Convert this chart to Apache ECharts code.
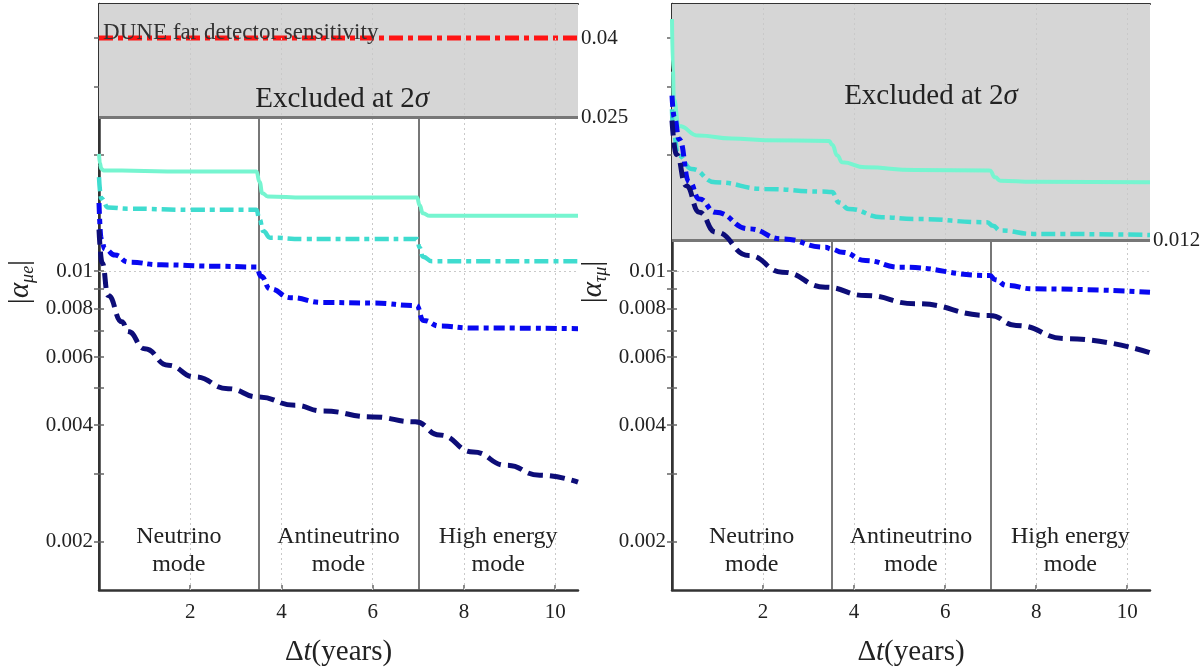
<!DOCTYPE html>
<html><head><meta charset="utf-8">
<script src="https://cdn.jsdelivr.net/npm/echarts@6/dist/echarts.min.js"></script>
<style>html,body{margin:0;padding:0;background:#fff}#c{width:1203px;height:667px}</style>
</head><body><div id="c"></div>
<script>
// ---------- data ----------
const xTickLabels = [2, 4, 6, 8, 10];
const yLeftLabels = [0.002, 0.004, 0.006, 0.008, 0.01];
const yTicks = [0.002, 0.003, 0.004, 0.005, 0.006, 0.007, 0.008, 0.009, 0.01, 0.02, 0.03, 0.04];
const yRightLabelsMuE = [0.025, 0.04];
const yRightLabelsTauMu = [0.012];
const modeBoundaries = [3.5, 7];
const modeNames = ['Neutrino\nmode', 'Antineutrino\nmode', 'High energy\nmode'];
const modeCenters = [1.75, 5.25, 8.75];
const excludedMuE = 0.025;
const excludedTauMu = 0.012;
const duneMuE = 0.04;
const X_MIN = 0, X_MAX = 10.5, Y_MIN = 0.0015, Y_MAX = 0.049;

// |alpha_mu e| panel
const muE_aqua_x = [0, 0.02, 0.05, 0.1, 0.5, 1.5, 2.5, 3.45, 3.52, 3.58, 3.7, 4.5, 6.0, 6.97, 7.03, 7.1, 7.25, 8.5, 10.5];
const muE_aqua_y = [0.0201, 0.0190, 0.0184, 0.0182, 0.0182, 0.0181, 0.0181, 0.0181, 0.0170, 0.0159, 0.0156, 0.0155, 0.0155, 0.0155, 0.0148, 0.0141, 0.0139, 0.0139, 0.0139];
const muE_turq_x = [0, 0.05, 0.2, 0.64, 2.0, 3.45, 3.52, 3.6, 3.75, 4.5, 6.0, 6.97, 7.03, 7.1, 7.3, 8.5, 10.5];
const muE_turq_y = [0.0175, 0.0154, 0.0146, 0.0145, 0.0144, 0.0144, 0.0136, 0.0127, 0.0122, 0.0121, 0.0121, 0.0121, 0.0115, 0.0109, 0.0106, 0.0106, 0.0106];
const muE_blue_x = [0, 0.05, 0.13, 0.35, 0.64, 1.37, 2.5, 3.45, 3.55, 3.75, 4.2, 4.9, 6.0, 6.96, 7.11, 7.47, 8.2, 10.5];
const muE_blue_y = [0.0150, 0.0121, 0.0114, 0.0110, 0.01055, 0.01038, 0.0103, 0.01025, 0.0097, 0.0090, 0.00854, 0.0083, 0.00827, 0.00815, 0.00746, 0.00721, 0.00713, 0.0071];
const muE_navy_x = [0, 0.07, 0.2, 0.5, 0.64, 1.0, 1.52, 2.1, 2.83, 3.49, 4.3, 4.9, 6.0, 6.93, 7.47, 8.2, 8.93, 9.66, 10.5];
const muE_navy_y = [0.0128, 0.0105, 0.00865, 0.0074, 0.00698, 0.0063, 0.00571, 0.00533, 0.00497, 0.00473, 0.0045, 0.00435, 0.0042, 0.00408, 0.00377, 0.00341, 0.00315, 0.00297, 0.00285];

// |alpha_tau mu| panel
const tauMu_aqua_x = [0, 0.02, 0.04, 0.15, 0.58, 1.31, 2.04, 3.45, 3.52, 3.63, 3.74, 4.25, 5.33, 6.98, 7.1, 7.21, 7.94, 10.5];
const tauMu_aqua_y = [0.0448, 0.0330, 0.0278, 0.0237, 0.0224, 0.0220, 0.0218, 0.0217, 0.0212, 0.0199, 0.0191, 0.01855, 0.01825, 0.0182, 0.01747, 0.01713, 0.01702, 0.01697];
const tauMu_turq_x = [0, 0.03, 0.14, 0.43, 0.95, 2.04, 3.29, 3.51, 3.67, 3.88, 4.61, 5.34, 6.92, 7.05, 7.21, 7.94, 10.5];
const tauMu_turq_y = [0.0262, 0.0228, 0.0199, 0.01836, 0.01696, 0.01631, 0.01605, 0.0160, 0.01505, 0.01448, 0.01378, 0.01364, 0.01338, 0.0131, 0.01273, 0.01248, 0.0124];
const tauMu_blue_x = [0, 0.05, 0.16, 0.38, 0.6, 0.96, 1.69, 2.42, 3.37, 3.5, 3.74, 4.25, 5.0, 6.98, 7.1, 7.35, 7.93, 10.5];
const tauMu_blue_y = [0.0284, 0.0250, 0.0219, 0.0170, 0.01536, 0.01419, 0.01286, 0.01211, 0.01153, 0.0114, 0.01119, 0.01065, 0.01024, 0.00974, 0.0095, 0.00918, 0.009, 0.00882];
const tauMu_navy_x = [0, 0.1, 0.31, 0.6, 0.96, 1.69, 2.42, 3.37, 4.25, 5.34, 6.98, 7.56, 8.66, 10.5];
const tauMu_navy_y = [0.0245, 0.0200, 0.01663, 0.01419, 0.01261, 0.01097, 0.00994, 0.00909, 0.00865, 0.00824, 0.00768, 0.00724, 0.00669, 0.00615];

// ---------- styling ----------
const FONT = 'Liberation Serif';
const TXT = '#222';
const zip = (xs, ys) => xs.map((x, i) => [x, ys[i]]);
const fmt = v => String(parseFloat(Number(v).toPrecision(4)));

function curve(name, xs, ys, color, width, dash, gi) {
  return {
    name, type: 'line', xAxisIndex: gi * 2, yAxisIndex: gi * 2,
    data: zip(xs, ys), showSymbol: false, smooth: 0.5, smoothMonotone: 'x',
    lineStyle: { color, width, type: dash, cap: 'butt' }, z: 5, silent: true
  };
}

function xAxes(gi) {
  const common = { type: 'value', gridIndex: gi, min: X_MIN, max: X_MAX, splitLine: { show: false } };
  return [
    Object.assign({}, common, {
      position: 'bottom',
      axisLine: { lineStyle: { color: '#333', width: 2.5 } },
      axisTick: { inside: true, length: 5, customValues: xTickLabels, lineStyle: { color: '#666', width: 1.5 } },
      axisLabel: { customValues: xTickLabels, color: TXT, fontFamily: FONT, fontSize: 21, margin: 12 },
      name: '{n|Δ}{i|t}{n|(years)}', nameLocation: 'middle', nameGap: 48,
      nameTextStyle: { rich: { n: { fontFamily: FONT, fontSize: 29, color: TXT }, i: { fontFamily: FONT, fontSize: 29, fontStyle: 'italic', color: TXT } } }
    }),
    Object.assign({}, common, {
      position: 'top',
      axisLine: { lineStyle: { color: '#333', width: 2 } },
      axisTick: { inside: true, length: 5, customValues: xTickLabels, lineStyle: { color: '#666', width: 1.5 } },
      axisLabel: { show: false }
    })
  ];
}

function yAxes(gi, rightLabels, nameSub) {
  const common = { type: 'log', logBase: 10, gridIndex: gi, min: Y_MIN, max: Y_MAX, splitLine: { show: false } };
  return [
    Object.assign({}, common, {
      position: 'left',
      axisLine: { lineStyle: { color: '#333', width: 2.5 } },
      axisTick: { inside: true, length: 5, customValues: yTicks, lineStyle: { color: '#666', width: 1.5 } },
      axisLabel: { customValues: yLeftLabels, formatter: fmt, color: TXT, fontFamily: FONT, fontSize: 21, margin: 6 },
      name: '{b||}{a|α}{s|' + nameSub + '}{b||}', nameLocation: 'middle', nameRotate: 90, nameGap: 62,
      nameTextStyle: { padding: [0, 0, 0, 30], rich: {
        b: { fontFamily: FONT, fontSize: 30, color: TXT, lineHeight: 34 },
        a: { fontFamily: FONT, fontSize: 29, fontStyle: 'italic', color: TXT, lineHeight: 34 },
        s: { fontFamily: FONT, fontSize: 18, fontStyle: 'italic', color: TXT, lineHeight: 18, verticalAlign: 'bottom' }
      } }
    }),
    Object.assign({}, common, {
      position: 'right',
      axisLine: { lineStyle: { color: '#333', width: 2 } },
      axisTick: { inside: true, length: 5, customValues: yTicks, lineStyle: { color: '#666', width: 1.5 } },
      axisLabel: { customValues: rightLabels, formatter: fmt, color: TXT, fontFamily: FONT, fontSize: 21, margin: 3 }
    })
  ];
}

function helper(gi, excluded, excludedTextX, excludedTextY, extraPoints) {
  const lines = [];
  xTickLabels.forEach(x => lines.push({ xAxis: x, lineStyle: { color: '#c9c9c9', width: 1, type: [2, 3] } }));
  lines.push({ yAxis: 0.01, lineStyle: { color: '#c9c9c9', width: 1, type: [2, 3] } });
  modeBoundaries.forEach(x => lines.push([
    { coord: [x, excluded], lineStyle: { color: '#555', width: 1.6, type: 'solid' } },
    { coord: [x, Y_MIN] }
  ]));
  lines.push({ yAxis: excluded, lineStyle: { color: '#777', width: 3, type: 'solid' } });
  const points = [];
  modeNames.forEach((n, i) => points.push({
    coord: [modeCenters[i], 0.0019], value: n,
    label: { formatter: n, fontFamily: FONT, fontSize: 24, lineHeight: 28, color: TXT }
  }));
  points.push({
    coord: [excludedTextX, excludedTextY],
    label: { formatter: '{t|Excluded at 2}{s|σ}', rich: {
      t: { fontFamily: FONT, fontSize: 29, color: TXT },
      s: { fontFamily: FONT, fontSize: 29, fontStyle: 'italic', color: TXT }
    } }
  });
  extraPoints.forEach(p => points.push(p));
  return {
    type: 'line', xAxisIndex: gi * 2, yAxisIndex: gi * 2, data: [], z: 1, silent: true,
    markArea: { silent: true, itemStyle: { color: '#d6d6d6' }, data: [[{ yAxis: excluded }, { yAxis: Y_MAX }]] },
    markLine: { silent: true, precision: 6, symbol: ['none', 'none'], label: { show: false }, animation: false, data: lines },
    markPoint: { silent: true, symbol: 'circle', symbolSize: 0, animation: false,
      label: { show: true, position: 'inside', color: TXT }, data: points }
  };
}

const AQUA = '#76f5d0', TURQ = '#3fdccf', BLUE = '#0808f0', NAVY = '#0d0d78';

const option = {
  animation: false,
  backgroundColor: '#fff',
  grid: [
    { left: 99, top: 4, width: 479, height: 586, show: false, outerBoundsMode: 'none', containLabel: false },
    { left: 672, top: 4, width: 478, height: 586, show: false, outerBoundsMode: 'none', containLabel: false }
  ],
  xAxis: [...xAxes(0), ...xAxes(1)],
  yAxis: [...yAxes(0, yRightLabelsMuE, 'μe'), ...yAxes(1, yRightLabelsTauMu, 'τμ')],
  series: [
    helper(0, excludedMuE, 5.33, 0.0278, [{
      coord: [0.09, 0.0412],
      label: { formatter: 'DUNE far detector sensitivity', position: 'right', distance: 0, fontFamily: FONT, fontSize: 23, color: '#333' }
    }]),
    helper(1, excludedTauMu, 5.69, 0.0282, []),
    {
      name: 'DUNE', type: 'line', xAxisIndex: 0, yAxisIndex: 0, showSymbol: false, z: 4, silent: true,
      data: [[X_MIN, duneMuE], [X_MAX, duneMuE]],
      lineStyle: { color: '#ff1414', width: 5, type: [14, 5, 5, 5], cap: 'butt' }
    },
    curve('aqua μe', muE_aqua_x, muE_aqua_y, AQUA, 4, 'solid', 0),
    curve('turq μe', muE_turq_x, muE_turq_y, TURQ, 4.5, [14, 5, 5, 5], 0),
    curve('blue μe', muE_blue_x, muE_blue_y, BLUE, 5, [11, 5, 5, 5], 0),
    curve('navy μe', muE_navy_x, muE_navy_y, NAVY, 5, [15, 7], 0),
    curve('aqua τμ', tauMu_aqua_x, tauMu_aqua_y, AQUA, 4, 'solid', 1),
    curve('turq τμ', tauMu_turq_x, tauMu_turq_y, TURQ, 4.5, [14, 5, 5, 5], 1),
    curve('blue τμ', tauMu_blue_x, tauMu_blue_y, BLUE, 5, [11, 5, 5, 5], 1),
    curve('navy τμ', tauMu_navy_x, tauMu_navy_y, NAVY, 5, [15, 7], 1)
  ]
};

const chart = echarts.init(document.getElementById('c'), null, { renderer: 'canvas' });
chart.setOption(option);
</script>
</body></html>
